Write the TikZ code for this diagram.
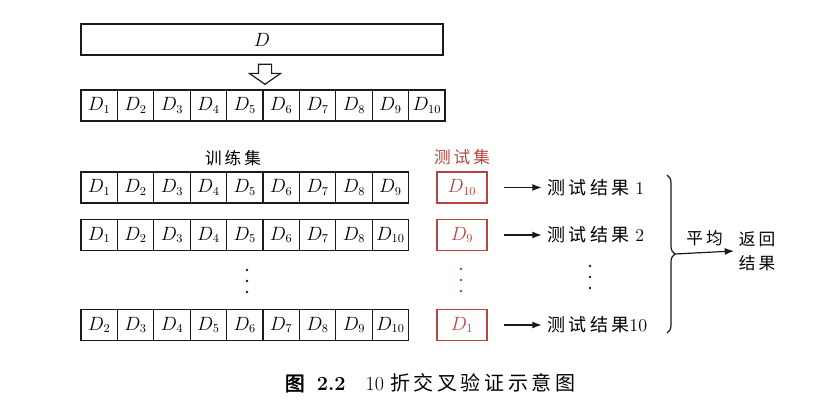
\documentclass[tikz,border=0pt]{standalone}
\usepackage{fontspec}
\newfontfamily\cjk{Noto Sans CJK SC}[LetterSpace=18,AutoFakeBold=2]
\usetikzlibrary{arrows.meta,positioning,decorations.pathreplacing,shapes.arrows}
\definecolor{ink}{HTML}{1A1A1A}
\definecolor{testred}{HTML}{B5453F}
\tikzset{>=Latex,line width=.8pt,
  every node/.style={font=\fontsize{13.5}{16}\selectfont},
  cell/.style={draw=ink,line width=1pt,minimum width=27.3pt,minimum height=23.25pt,inner sep=0pt},
  wholebox/.style={cell,minimum width=271.5pt},
  testbox/.style={cell,draw=testred,minimum width=37.5pt},
  cjktext/.style={font=\fontsize{12.5}{18}\selectfont\cjk},
  hollowarrow/.style={single arrow,draw=ink,line width=.9pt,shape border rotate=270,
    minimum height=15pt,inner sep=4.5pt,single arrow head extend=6.75pt,single arrow tip angle=110},
  link/.style={->,draw=ink,line width=.9pt}}
\begin{document}
\begin{tikzpicture}[x=.75pt,y=-.75pt]
\useasboundingbox (0,0) rectangle (821,413);
% data set and its ten parts
\node[wholebox] (D) at (262,39.5) {$D$};
\node[hollowarrow] (split) at (265,72) {};
\foreach \k in {1,...,10}
  \node[cell] (all-\k) at ({81+36.4*(\k-.5)},105.5) {$D_{\k}$};
% folds
\node[cjktext] (train) at (233,158) {训练集};
\foreach \row/\y/\labs in {1/187.5/{1,2,3,4,5,6,7,8,9},2/235/{1,2,3,4,5,6,7,8,10},3/325/{2,3,4,5,6,7,8,9,10}}
  \foreach \lab [count=\k] in \labs
    \node[cell] (f\row-\k) at ({81+36.4*(\k-.5)},\y) {$D_{\lab}$};
\node[testbox,text=testred] (t1) at (462,187.5) {$D_{10}$};
\node[testbox,text=testred] (t2) at (462,235) {$D_9$};
\node[testbox,text=testred] (t3) at (462,325) {$D_1$};
\node[cjktext,text=testred,above=1pt of t1] (testlbl) {测试集};
\foreach \d in {-11,0,11}{
  \fill[ink] (247,281+\d) circle (1.1pt);
  \fill[testred] (461,280+\d) circle (1.1pt);
  \fill[ink] (590,277+\d) circle (1.1pt);}
% results
\node[anchor=west] (res1) at (543,187.5) {{\cjk 测试结果} 1};
\node[anchor=west] (res2) at (543,235) {{\cjk 测试结果} 2};
\node[anchor=west] (res3) at (543,325) {{\cjk 测试结果}10};
\foreach \i in {1,2,3}
  \draw[link,shorten <=12pt,shorten >=1pt] (t\i) -- (res\i);
\coordinate (brtop) at (667,175);
\coordinate (brbot) at (667,333);
\draw[ink,line width=.9pt,decorate,decoration={brace,amplitude=6pt}] (brtop) -- (brbot);
\coordinate (brmid) at (675,254);
\node[cjktext,align=center] (ret) at (757,251) {返回\\结果};
\draw[link] (brmid) -- (ret.west) node[midway,above=1pt,cjktext] {平均};
% caption
\node (cap) at (430,383) {\fontsize{15}{18}\selectfont{\bfseries\cjk 图}\ \ \textbf{2.2}\quad 10 {\cjk 折交叉验证示意图}};
\end{tikzpicture}
\end{document}
